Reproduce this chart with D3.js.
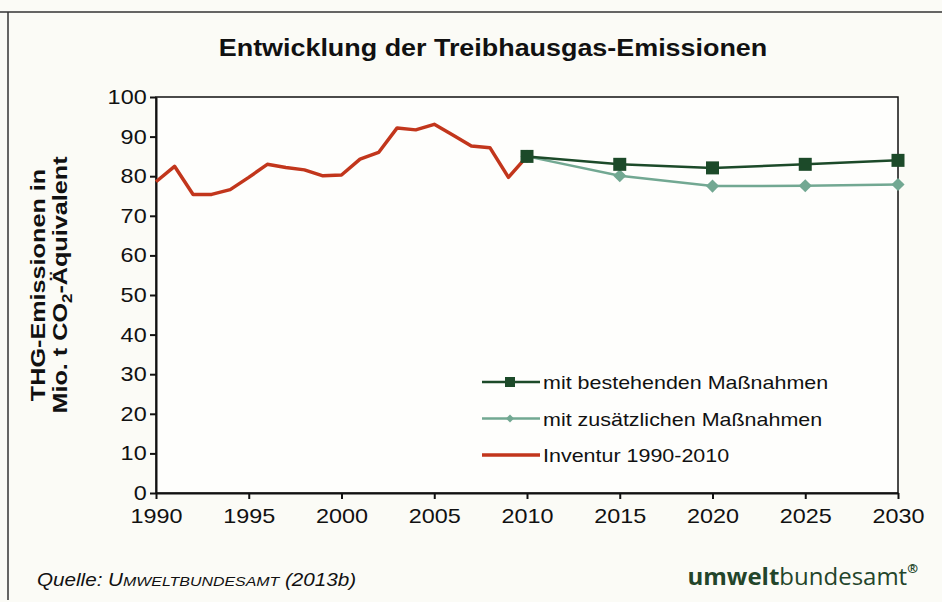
<!DOCTYPE html>
<html>
<head>
<meta charset="utf-8">
<script src="https://cdn.jsdelivr.net/npm/d3@7"></script>
<style>
  body { margin: 0; background: #fbfbf6; }
  svg { display: block; font-family: "Liberation Sans", Arial, sans-serif; }
  .axis path, .axis line { stroke: #111; stroke-width: 2; }
  .axis text { font-size: 20px; fill: #111; }
</style>
</head>
<body>
<div id="chart"></div>
<script>
// Chart data
var inventurYears = [1990, 1991, 1992, 1993, 1994, 1995, 1996, 1997, 1998, 1999, 2000,
                     2001, 2002, 2003, 2004, 2005, 2006, 2007, 2008, 2009, 2010];
var inventurValues = [78.6, 82.5, 75.4, 75.4, 76.6, 79.7, 83.0, 82.2, 81.6, 80.1, 80.3,
                      84.3, 86.0, 92.2, 91.7, 93.1, 90.4, 87.6, 87.2, 79.7, 85.0];

var projYears = [2010, 2015, 2020, 2025, 2030];
var bestehendeValues = [85.0, 83.0, 82.1, 83.0, 84.0];
var zusaetzlicheValues = [85.0, 80.1, 77.5, 77.6, 77.9];

var xTickValues = [1990, 1995, 2000, 2005, 2010, 2015, 2020, 2025, 2030];
var yTickValues = [0, 10, 20, 30, 40, 50, 60, 70, 80, 90, 100];

var legendLabels = ["mit bestehenden Maßnahmen", "mit zusätzlichen Maßnahmen", "Inventur 1990-2010"];

// Colours
var red = "#c2361c";
var darkGreen = "#1c4a29";
var lightGreen = "#72a892";

// Dimensions
var svgWidth = 942;
var svgHeight = 602;
var plot = { left: 156, right: 898, top: 97, bottom: 493 };

// the scanned original is a bit wider than tall, so texts get stretched sideways
var stretch = 1.17;

var svg = d3.select("#chart")
    .append("svg")
    .attr("width", svgWidth)
    .attr("height", svgHeight);

// Outer frame (top and left edges of the scanned figure)
svg.append("line")
    .attr("x1", 0).attr("x2", svgWidth)
    .attr("y1", 12).attr("y2", 12)
    .attr("stroke", "#333").attr("stroke-width", 1.5);
svg.append("line")
    .attr("x1", 8).attr("x2", 8)
    .attr("y1", 12).attr("y2", 600)
    .attr("stroke", "#333").attr("stroke-width", 1.5);

// Title
svg.append("g")
    .attr("transform", `translate(493, 56) scale(${stretch}, 1)`)
    .append("text")
    .attr("text-anchor", "middle")
    .attr("font-size", 23)
    .attr("font-weight", "bold")
    .attr("fill", "#111")
    .text("Entwicklung der Treibhausgas-Emissionen");

// Scales
var x = d3.scaleLinear().domain([1990, 2030]).range([plot.left, plot.right]);
var y = d3.scaleLinear().domain([0, 100]).range([plot.bottom, plot.top]);

// Plot area border
svg.append("rect")
    .attr("x", plot.left)
    .attr("y", plot.top)
    .attr("width", plot.right - plot.left)
    .attr("height", plot.bottom - plot.top)
    .attr("fill", "#fefefc")
    .attr("stroke", "#111")
    .attr("stroke-width", 1.5);

// Axes
var xAxis = svg.append("g")
    .attr("class", "axis")
    .attr("transform", `translate(0, ${plot.bottom})`)
    .call(d3.axisBottom(x).tickValues(xTickValues).tickFormat(d3.format("d")).tickSize(6).tickSizeOuter(0).tickPadding(10));
xAxis.selectAll("text").attr("transform", `scale(${stretch}, 1)`);

var yAxis = svg.append("g")
    .attr("class", "axis")
    .attr("transform", `translate(${plot.left}, 0)`)
    .call(d3.axisLeft(y).tickValues(yTickValues).tickSize(6).tickSizeOuter(0).tickPadding(2));
yAxis.selectAll("text").attr("transform", `scale(${stretch}, 1)`);

// Y axis label
var yLabel = svg.append("g")
    .attr("transform", `translate(0, 285) rotate(-90) scale(1.2, 1)`)
    .attr("text-anchor", "middle")
    .attr("font-weight", "bold")
    .attr("font-size", 21)
    .attr("fill", "#111");
yLabel.append("text").attr("y", 45).text("THG-Emissionen in");
var l2 = yLabel.append("text").attr("y", 67);
l2.append("tspan").text("Mio. t CO");
l2.append("tspan").attr("font-size", 14).attr("dy", 5).text("2");
l2.append("tspan").attr("dy", -5).text("-Äquivalent");

// Lines
var line = d3.line()
    .x(d => x(d[0]))
    .y(d => y(d[1]));

var inventur = inventurYears.map((yr, i) => [yr, inventurValues[i]]);
var bestehende = projYears.map((yr, i) => [yr, bestehendeValues[i]]);
var zusaetzlich = projYears.map((yr, i) => [yr, zusaetzlicheValues[i]]);

svg.append("path")
    .datum(inventur)
    .attr("d", line)
    .attr("fill", "none")
    .attr("stroke", red)
    .attr("stroke-width", 3.5)
    .attr("stroke-linejoin", "round");

svg.append("path")
    .datum(zusaetzlich)
    .attr("d", line)
    .attr("fill", "none")
    .attr("stroke", lightGreen)
    .attr("stroke-width", 2.5);

svg.selectAll(".diamond")
    .data(zusaetzlich)
    .enter()
    .append("path")
    .attr("class", "diamond")
    .attr("d", d3.symbol().type(d3.symbolDiamond2).size(110))
    .attr("transform", d => `translate(${x(d[0])}, ${y(d[1])})`)
    .attr("fill", lightGreen);

svg.append("path")
    .datum(bestehende)
    .attr("d", line)
    .attr("fill", "none")
    .attr("stroke", darkGreen)
    .attr("stroke-width", 2.5);

svg.selectAll(".square")
    .data(bestehende)
    .enter()
    .append("rect")
    .attr("class", "square")
    .attr("x", d => x(d[0]) - 6.5)
    .attr("y", d => y(d[1]) - 6.5)
    .attr("width", 13)
    .attr("height", 13)
    .attr("fill", darkGreen);

// Legend
var legend = svg.append("g").attr("transform", "translate(482, 382)");
var legendColors = [darkGreen, lightGreen, red];
var legendWidths = [2.5, 2.5, 3.5];
var rowGap = 36.5;

legendLabels.forEach(function(label, i) {
    var row = legend.append("g").attr("transform", `translate(0, ${i * rowGap})`);
    row.append("line")
        .attr("x1", 0).attr("x2", 58)
        .attr("stroke", legendColors[i])
        .attr("stroke-width", legendWidths[i]);
    if (i === 0) {
        row.append("rect")
            .attr("x", 23).attr("y", -5).attr("width", 10).attr("height", 10)
            .attr("fill", darkGreen);
    } else if (i === 1) {
        row.append("path")
            .attr("d", d3.symbol().type(d3.symbolDiamond2).size(40))
            .attr("transform", "translate(28, 0)")
            .attr("fill", lightGreen);
    }
    row.append("g")
        .attr("transform", `translate(61, 7) scale(1.13, 1)`)
        .append("text")
        .attr("font-size", 19)
        .attr("fill", "#111")
        .text(label);
});

// Footer
var source = svg.append("g")
    .attr("transform", `translate(37, 586) scale(1.18, 1)`)
    .append("text")
    .attr("font-size", 17.5)
    .attr("font-style", "italic")
    .attr("fill", "#111");
source.append("tspan").text("Quelle: U");
source.append("tspan").attr("font-size", 13.5).text("MWELTBUNDESAMT");
source.append("tspan").text(" (2013b)");

var logo = svg.append("text")
    .attr("x", 918)
    .attr("y", 585)
    .attr("text-anchor", "end")
    .attr("font-family", "'Open Sans', 'Noto Sans', sans-serif")
    .attr("font-size", 24)
    .attr("fill", "#23452a");
logo.append("tspan").attr("font-weight", "bold").text("umwelt");
logo.append("tspan").text("bundesamt");
logo.append("tspan").attr("font-size", 13).attr("font-weight", "bold").attr("dy", -12).text("®");
</script>
</body>
</html>
